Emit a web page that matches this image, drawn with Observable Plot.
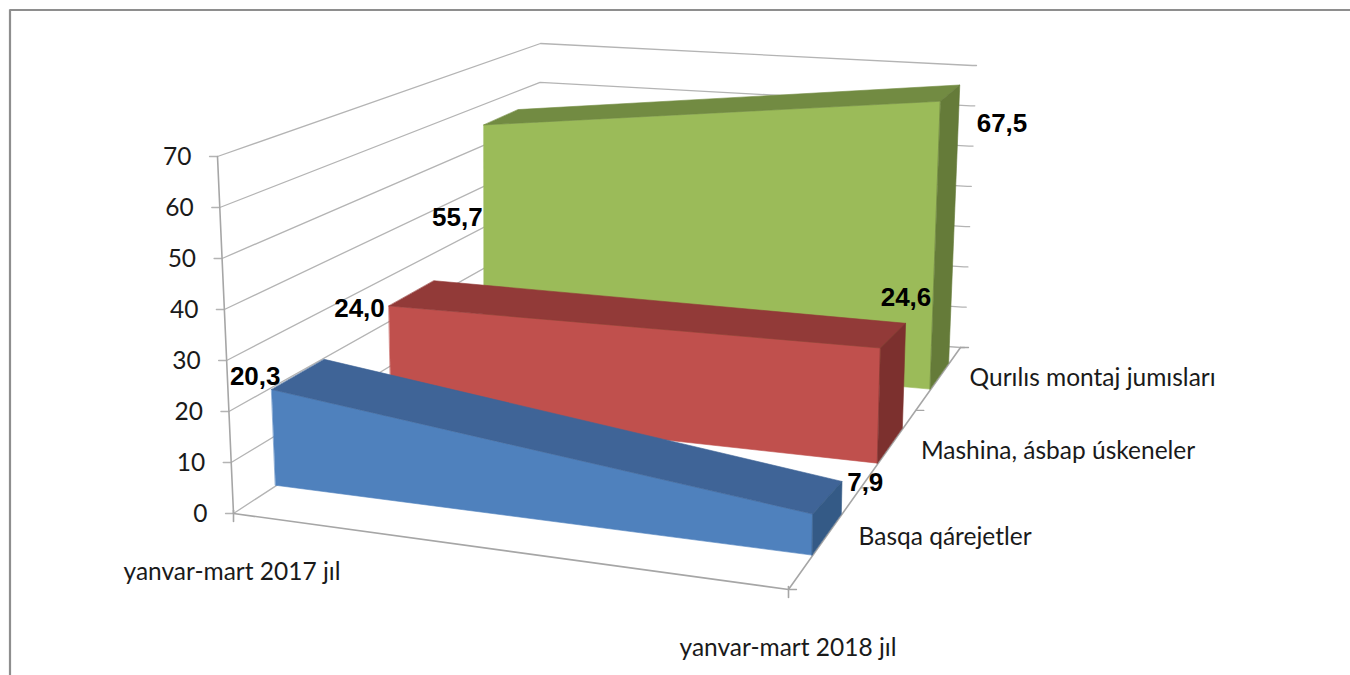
<!DOCTYPE html>
<html>
<head>
<meta charset="utf-8">
<script src="https://cdn.jsdelivr.net/npm/d3@7"></script>
<script src="https://cdn.jsdelivr.net/npm/@observablehq/plot@0.6"></script>
<style>
html,body{margin:0;padding:0;background:#fff;}
svg{display:block;}
</style>
</head>
<body>
<div id="chart"></div>
<script>
// ---- data ----
const periods = ["yanvar-mart 2017 jıl", "yanvar-mart 2018 jıl"];
const seriesNames = ["Basqa qárejetler", "Mashina, ásbap úskeneler", "Qurılıs montaj jumısları"];
const basqa = [20.3, 7.9];
const mashina = [24.0, 24.6];
const qurilis = [55.7, 67.5];
const valueTicks = [0, 10, 20, 30, 40, 50, 60, 70];
const valueMax = 70;

// ---- styling ----
const faceColors = [
  {front: "#4f81bd", top: "#3f6497", side: "#345a86"},
  {front: "#c0504d", top: "#923a38", side: "#7c302e"},
  {front: "#9bbb59", top: "#728b42", side: "#657b39"}
];
const gridColor = "#b4b4b4";
const axisColor = "#a6a6a6";
const borderColor = "#8e8e8e";
// depth band of each series on the floor (0 front, 1 back)
const depthBands = [[0.14, 0.31], [0.52, 0.665], [0.826, 0.934]];
const depthTicks = [0, 0.42, 0.74, 1];
// foreshortening of each solid's far edge at its right-hand end
const farEdgeRise = [0.83, 0.95, 1];
// box corners of the 3D view: [period, depth, value]
const wallCorners = {
  "000": [233, 513], "100": [788, 589], "010": [537, 315], "110": [960, 347],
  "001": [217, 156], "101": [793, 212], "011": [540, 43],  "111": [972, 65]
};
// the solids sit on the same floor, with a slightly flatter left-hand rise
const solidCorners = {...wallCorners, "001": [217, 173], "011": [540, 45]};
// trilinear mapping of the view box
function project(u, d, v, corners = wallCorners) {
  const w = v / valueMax;
  const out = [0, 1].map(k =>
    d3.sum([0, 1], a => d3.sum([0, 1], b => d3.sum([0, 1], c =>
      corners[`${a}${b}${c}`][k] *
      (a ? u : 1 - u) * (b ? d : 1 - d) * (c ? w : 1 - w)))));
  return {x: out[0], y: out[1]};
}
const solid = (u, d, v) => project(u, d, v, solidCorners);

const seriesValues = [basqa, mashina, qurilis];

// faces as two-edge quads, painted back to front
const faces = [];
function quad(name, fill, a, b, c, e) {
  faces.push({name, fill, x1: a.x, y1: a.y, x2: b.x, y2: b.y, order: 0});
  faces.push({name, fill, x1: e.x, y1: e.y, x2: c.x, y2: c.y, order: 1});
}
[2, 1, 0].forEach(s => {
  const [d0, d1] = depthBands[s];
  const [v0, v1] = seriesValues[s];
  const far = v1 * farEdgeRise[s];
  const col = faceColors[s];
  quad(`f${s}`, col.front, solid(0, d0, 0), solid(0, d0, v0), solid(1, d0, v1), solid(1, d0, 0));
  quad(`t${s}`, col.top,   solid(0, d0, v0), solid(0, d1, v0), solid(1, d1, far), solid(1, d0, v1));
  quad(`s${s}`, col.side,  solid(1, d0, 0), solid(1, d0, v1), solid(1, d1, far), solid(1, d1, 0));
});
const faceMarks = d3.groups(faces, f => f.name).map(([name, rows]) =>
  Plot.area(rows, {x1: "x1", y1: "y1", x2: "x2", y2: "y2", fill: rows[0].fill,
                   stroke: rows[0].fill, strokeWidth: 0.6, curve: "linear"}));

// gridlines: left wall, then back wall
const gridRows = valueTicks.flatMap(v => {
  const a = project(0, 0, v), b = project(0, 1, v), c = project(1, 1, v);
  return [
    {v, x: a.x - 8, y: a.y}, {v, x: a.x, y: a.y}, {v, x: b.x, y: b.y}, {v, x: c.x, y: c.y}, {v, x: c.x + 4, y: c.y}
  ];
});
const p00 = project(0, 0, 0), p01 = project(0, 0, valueMax), p10 = project(1, 0, 0), p11 = project(1, 1, 0);
const axisRows = [
  {k: "val", ...p00}, {k: "val", ...p01},
  {k: "front", ...p00}, {k: "front", ...p10},
  {k: "side", ...p10}, {k: "side", ...p11}
];
const catTicks = [0, 1].flatMap(u => {
  const p = project(u, 0, 0);
  return [{k: u, x: p.x, y: p.y - 3}, {k: u, x: p.x, y: p.y + 8}];
});
const depthTickRows = depthTicks.flatMap(d => {
  const p = project(1, d, 0);
  return [{k: d, x: p.x, y: p.y}, {k: d, x: p.x + 8, y: p.y}];
});

// tick labels
const valueLabels = valueTicks.map(v => {
  const p = project(0, 0, v);
  return {text: String(v), x: p.x - 26, y: p.y + 1};
});
const comma = n => n.toFixed(1).replace(".", ",");
// label centre offsets from the data point each one annotates
const labelOffsets = [
  [[-17, -13], [52, -32]],
  [[-30, 2], [25, -51]],
  [[-27, 92], [61, 22]]
];
const dataLabels = [];
seriesValues.forEach((vals, s) => vals.forEach((v, i) => {
  const p = solid(i, depthBands[s][0], v);
  const [dx, dy] = labelOffsets[s][i];
  dataLabels.push({text: comma(v), x: p.x + dx, y: p.y + dy});
}));
const seriesLabelOffsets = [[46, -18], [43, -13], [39, -11]];
const depthLabels = seriesNames.map((name, s) => {
  const p = project(1, depthBands[s][0], 0);
  return {text: name, x: p.x + seriesLabelOffsets[s][0], y: p.y + seriesLabelOffsets[s][1]};
});
const periodOffsets = [[-1.5, 59], [-0.5, 59]];
const periodLabels = periods.map((name, i) => {
  const p = project(i, 0, 0);
  return {text: name, x: p.x + periodOffsets[i][0], y: p.y + periodOffsets[i][1]};
});

const labelFont = "Lato, Carlito, sans-serif";
const labelSize = 24.5;

const chart = Plot.plot({
  width: 1350,
  height: 675,
  margin: 0,
  style: {background: "#fff"},
  x: {type: "identity", axis: null},
  y: {type: "identity", axis: null},
  marks: [
    Plot.ruleX([9.5], {y1: 9.5, y2: 675, stroke: borderColor, strokeWidth: 2.2}),
    Plot.ruleY([9.5], {x1: 9.5, x2: 1350, stroke: borderColor, strokeWidth: 2.2}),
    Plot.line(gridRows, {x: "x", y: "y", z: "v", stroke: gridColor, strokeWidth: 1.3}),
    Plot.line(axisRows, {x: "x", y: "y", z: "k", stroke: axisColor, strokeWidth: 1.6}),
    Plot.line(catTicks, {x: "x", y: "y", z: "k", stroke: axisColor, strokeWidth: 1.6}),
    Plot.line(depthTickRows, {x: "x", y: "y", z: "k", stroke: axisColor, strokeWidth: 1.3}),
    ...faceMarks,
    Plot.text(valueLabels, {x: "x", y: "y", text: "text", textAnchor: "end", fontSize: labelSize, fontFamily: labelFont, fill: "#1a1a1a"}),
    Plot.text(periodLabels, {x: "x", y: "y", text: "text", textAnchor: "middle", fontSize: labelSize, fontFamily: labelFont, fill: "#1a1a1a"}),
    Plot.text(depthLabels, {x: "x", y: "y", text: "text", textAnchor: "start", fontSize: labelSize, fontFamily: labelFont, fill: "#1a1a1a"}),
    Plot.text(dataLabels, {x: "x", y: "y", text: "text", textAnchor: "middle", fontSize: 26, fontWeight: "bold", fontFamily: "'Liberation Sans', Arial, sans-serif", fill: "#000"})
  ]
});
document.getElementById("chart").appendChild(chart);
</script>
</body>
</html>
